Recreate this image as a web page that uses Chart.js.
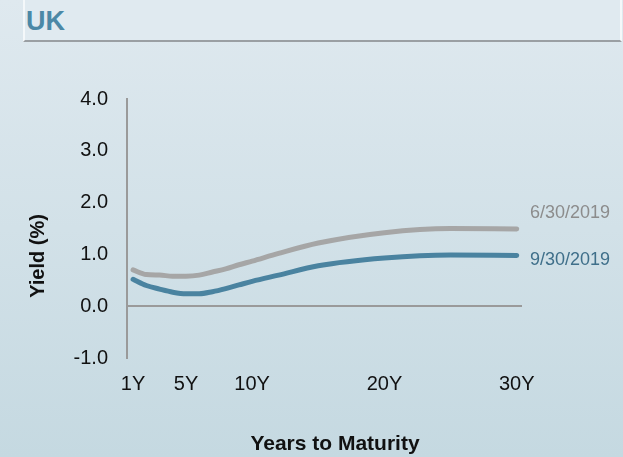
<!DOCTYPE html>
<html>
<head>
<meta charset="utf-8">
<script src="https://cdn.jsdelivr.net/npm/chart.js@4"></script>
<style>
  html, body { margin: 0; padding: 0; }
  body {
    width: 623px; height: 457px; overflow: hidden; position: relative;
    background: linear-gradient(to bottom, #dfe9ef 0%, #d2e1e8 50%, #c5d9e1 100%);
    font-family: "Liberation Sans", Arial, sans-serif;
  }
  #header {
    position: absolute; left: 23px; top: 0; width: 595px; height: 40px;
    border-left: 2px solid #f4f8fa; border-right: 2px solid #f4f8fa;
    border-bottom: 2px solid #9a9fa3;
    background: #e0eaf0;
  }
  #header span {
    position: absolute; left: 1px; top: 6px;
    font: bold 27px "Liberation Sans", Arial, sans-serif; color: #4b88a6;
  }
  #wrap { position: absolute; left: 0; top: 0; width: 623px; height: 457px; }
</style>
</head>
<body>
<div id="header"><span>UK</span></div>
<div id="wrap"><canvas id="ukYield" width="623" height="457"></canvas></div>
<script>
// maturities in years
const maturities = [1, 2, 3, 4, 5, 6, 7, 8, 9, 10, 12, 15, 20, 25, 30];
const yieldJun = [0.70, 0.61, 0.60, 0.58, 0.58, 0.60, 0.66, 0.72, 0.80, 0.87, 1.02, 1.22, 1.42, 1.50, 1.49];
const yieldSep = [0.52, 0.40, 0.33, 0.27, 0.24, 0.24, 0.28, 0.34, 0.41, 0.48, 0.60, 0.78, 0.93, 0.99, 0.98];
const xTicks = [1, 5, 10, 20, 30];
const seriesNames = ["6/30/2019", "9/30/2019"];

const grey = "#a6a6a6";
const blue = "#4a83a0";
const fontFam = '"Liberation Sans", Arial, sans-serif';

// right-side series labels + axis titles
const labelsPlugin = {
  id: "sideLabels",
  afterDraw(chart) {
    const ctx = chart.ctx;
    const area = chart.chartArea;
    ctx.save();
    ctx.font = "18px " + fontFam;
    ctx.textBaseline = "middle";
    ctx.textAlign = "left";
    const offsets = [-16, 5];
    const colors = ["#8c8c8c", "#3f6f8a"];
    chart.data.datasets.forEach((ds, i) => {
      const meta = chart.getDatasetMeta(i);
      const last = meta.data[meta.data.length - 1];
      ctx.fillStyle = colors[i];
      ctx.fillText(ds.label, area.right + 8, last.y + offsets[i]);
    });

    ctx.fillStyle = "#111";
    ctx.font = "bold 21px " + fontFam;
    ctx.textAlign = "center";
    ctx.fillText("Years to Maturity", 335, 444);
    ctx.font = "bold 20px " + fontFam;
    ctx.translate(38, 256);
    ctx.rotate(-Math.PI / 2);
    ctx.fillText("Yield (%)", 0, 0);
    ctx.restore();
  }
};

new Chart(document.getElementById("ukYield").getContext("2d"), {
  type: "line",
  data: {
    labels: maturities,
    datasets: [
      {
        label: seriesNames[0],
        data: maturities.map((m, i) => ({ x: m, y: yieldJun[i] })),
        borderColor: grey,
        borderWidth: 5,
        borderCapStyle: "round",
        pointRadius: 0,
        cubicInterpolationMode: "monotone",
      },
      {
        label: seriesNames[1],
        data: maturities.map((m, i) => ({ x: m, y: yieldSep[i] })),
        borderColor: blue,
        borderWidth: 5,
        borderCapStyle: "round",
        pointRadius: 0,
        cubicInterpolationMode: "monotone",
      },
    ],
  },
  options: {
    responsive: false,
    animation: false,
    layout: { padding: { left: 0, right: 101, top: 99, bottom: 59 } },
    plugins: {
      legend: { display: false },
      tooltip: { enabled: false },
    },
    scales: {
      x: {
        type: "linear",
        min: 0.54,
        max: 30.4,
        afterBuildTicks: (scale) => {
          scale.ticks = xTicks.map((v) => ({ value: v }));
        },
        afterFit: (scale) => { scale.height = 40; },
        grid: { display: false, drawTicks: false },
        border: { display: false },
        ticks: {
          padding: 14,
          color: "#111",
          font: { family: fontFam, size: 20 },
          callback: (v) => v + "Y",
        },
      },
      y: {
        min: -1,
        max: 4,
        afterFit: (scale) => { scale.width = 127; },
        grid: {
          drawTicks: false,
          lineWidth: 2,
          color: (c) => (c.tick && c.tick.value === 0 ? "#9a9a9a" : "transparent"),
        },
        border: { display: true, color: "#9a9a9a", width: 2 },
        ticks: {
          stepSize: 1,
          padding: 19,
          color: "#111",
          font: { family: fontFam, size: 20 },
          callback: (v) => v.toFixed(1),
        },
      },
    },
  },
  plugins: [labelsPlugin],
});
</script>
</body>
</html>
